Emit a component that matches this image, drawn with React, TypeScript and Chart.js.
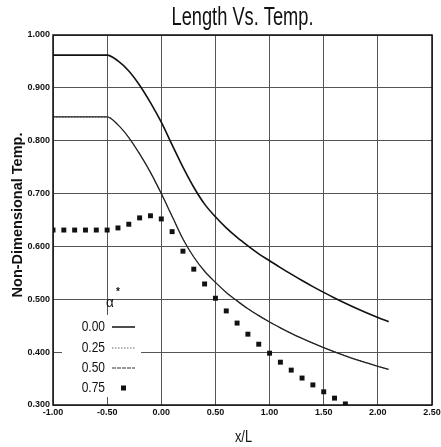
import React, { useEffect, useRef } from "react";
import { Chart, registerables } from "chart.js";

Chart.register(...registerables);

// ---- data ----
const xCurve = [
  -1.0, -0.9, -0.8, -0.7, -0.6, -0.5, -0.4, -0.3, -0.2, -0.1, 0.0, 0.1, 0.2, 0.3, 0.4, 0.5,
  0.6, 0.7, 0.8, 0.9, 1.0, 1.1, 1.2, 1.3, 1.4, 1.5, 1.6, 1.7, 1.8, 1.9, 2.0, 2.1,
];
const alpha000 = [
  0.962, 0.962, 0.962, 0.962, 0.962, 0.962, 0.951, 0.932, 0.905, 0.872, 0.835, 0.792, 0.75,
  0.712, 0.68, 0.656, 0.635, 0.617, 0.601, 0.586, 0.573, 0.56, 0.5475, 0.5355, 0.524, 0.513,
  0.5025, 0.4925, 0.483, 0.474, 0.4655, 0.4575,
];
const alpha025 = [
  0.845, 0.845, 0.845, 0.845, 0.845, 0.845, 0.83, 0.806, 0.775, 0.74, 0.7, 0.657, 0.614, 0.58,
  0.553, 0.532, 0.513, 0.497, 0.482, 0.469, 0.457, 0.446, 0.4355, 0.426, 0.417, 0.4085, 0.4005,
  0.393, 0.386, 0.3795, 0.3732, 0.3672,
];
const alpha050 = [
  0.845, 0.845, 0.845, 0.845, 0.845, 0.845, 0.83, 0.806, 0.775, 0.74, 0.7, 0.657, 0.614, 0.58,
  0.553, 0.532, 0.513, 0.497, 0.482, 0.469, 0.457, 0.446, 0.4355, 0.426, 0.417, 0.4085, 0.4005,
  0.393, 0.386, 0.3795, 0.3732, 0.3672,
];
const xSquares = [
  -1.0, -0.9, -0.8, -0.7, -0.6, -0.5, -0.4, -0.3, -0.2, -0.1, 0.0, 0.1, 0.2, 0.3, 0.4, 0.5,
  0.6, 0.7, 0.8, 0.9, 1.0, 1.1, 1.2, 1.3, 1.4, 1.5, 1.6, 1.7,
];
const alpha075 = [
  0.631, 0.631, 0.631, 0.631, 0.631, 0.631, 0.635, 0.642, 0.654, 0.658, 0.652, 0.628, 0.591,
  0.557, 0.529, 0.502, 0.478, 0.455, 0.434, 0.415, 0.398, 0.381, 0.366, 0.351, 0.338, 0.325,
  0.313, 0.302,
];
const legendLabels = ["0.00", "0.25", "0.50", "0.75"];
const titleText = "Length Vs. Temp.";
const xTitle = "x/L";
const yTitle = "Non-Dimensional Temp.";

const pts = (xs: number[], ys: number[]) => xs.map((x, i) => ({ x, y: ys[i] }));

function narrowText(
  ctx: CanvasRenderingContext2D,
  text: string,
  x: number,
  y: number,
  font: string,
  sx: number,
  align: CanvasTextAlign
) {
  ctx.save();
  ctx.translate(x, y);
  ctx.scale(sx, 1);
  ctx.font = font;
  ctx.textAlign = align;
  ctx.textBaseline = "middle";
  ctx.fillStyle = "#111";
  ctx.fillText(text, 0, 0);
  ctx.restore();
}

const deco = {
  id: "deco",
  beforeDraw(chart: any) {
    const ctx = chart.ctx;
    ctx.save();
    ctx.fillStyle = "#fff";
    ctx.fillRect(0, 0, chart.width, chart.height);
    ctx.restore();
  },
  beforeDatasetsDraw(chart: any) {
    const ctx = chart.ctx;
    const a = chart.chartArea;
    ctx.save();
    ctx.fillStyle = "#fff";
    ctx.fillRect(a.left + 9, a.bottom - 90, 79, 82);
    ctx.restore();
  },
  afterDraw(chart: any) {
    const ctx = chart.ctx;
    const a = chart.chartArea;
    ctx.save();
    ctx.strokeStyle = "#111";
    ctx.lineWidth = 1.5;
    ctx.strokeRect(a.left, a.top, a.right - a.left, a.bottom - a.top);
    ctx.restore();

    const cx = (a.left + a.right) / 2;
    narrowText(ctx, titleText, cx, 18, "25px 'Liberation Sans'", 0.73, "center");
    narrowText(ctx, xTitle, cx + 1, 438, "16px 'Liberation Sans'", 0.8, "center");

    ctx.save();
    ctx.translate(18, 215);
    ctx.rotate(-Math.PI / 2);
    ctx.font = "bold 14.5px 'Liberation Sans'";
    ctx.textAlign = "center";
    ctx.textBaseline = "middle";
    ctx.fillStyle = "#111";
    ctx.fillText(yTitle, 0, 0);
    ctx.restore();

    // legend
    const lx = a.left;
    const by = a.bottom;
    narrowText(ctx, "\u03b1", lx + 57, by - 102, "15px 'Liberation Sans'", 0.9, "center");
    narrowText(ctx, "*", lx + 65, by - 113, "bold 10px 'Liberation Sans'", 1, "center");
    const rows = [by - 78, by - 57, by - 37, by - 17];
    legendLabels.forEach((t, i) => {
      narrowText(ctx, t, lx + 52, rows[i], "15px 'Liberation Sans'", 0.8, "right");
    });
    ctx.save();
    ctx.strokeStyle = "#111";
    ctx.lineWidth = 1.5;
    ctx.beginPath();
    ctx.moveTo(lx + 59, rows[0]);
    ctx.lineTo(lx + 82, rows[0]);
    ctx.stroke();
    ctx.strokeStyle = "#666";
    ctx.lineWidth = 1;
    ctx.setLineDash([1.5, 1.5]);
    ctx.beginPath();
    ctx.moveTo(lx + 59, rows[1]);
    ctx.lineTo(lx + 82, rows[1]);
    ctx.stroke();
    ctx.strokeStyle = "#333";
    ctx.setLineDash([4, 1]);
    ctx.beginPath();
    ctx.moveTo(lx + 59, rows[2]);
    ctx.lineTo(lx + 82, rows[2]);
    ctx.stroke();
    ctx.setLineDash([]);
    ctx.fillStyle = "#111";
    ctx.fillRect(lx + 68, rows[3] - 2.5, 5, 5);
    ctx.restore();
  },
};

export default function App() {
  const ref = useRef<HTMLCanvasElement | null>(null);
  useEffect(() => {
    if (!ref.current) return;
    const chart = new Chart(ref.current, {
      type: "scatter",
      data: {
        datasets: [
          {
            label: "0.00",
            data: pts(xCurve, alpha000),
            showLine: true,
            borderColor: "#111",
            borderWidth: 1.6,
            pointRadius: 0,
            cubicInterpolationMode: "monotone",
          },
          {
            label: "0.50",
            data: pts(xCurve, alpha050),
            showLine: true,
            borderColor: "#222",
            borderWidth: 1.3,
            pointRadius: 0,
            cubicInterpolationMode: "monotone",
          },
          {
            label: "0.25",
            data: pts(xCurve, alpha025),
            showLine: true,
            borderColor: "#555",
            borderWidth: 1,
            borderDash: [1.5, 1.5],
            pointRadius: 0,
            cubicInterpolationMode: "monotone",
          },
          {
            label: "0.75",
            data: pts(xSquares, alpha075),
            showLine: false,
            pointStyle: "rect",
            pointRadius: 3.5,
            pointBackgroundColor: "#111",
            pointBorderWidth: 0,
            borderColor: "#111",
          },
        ],
      },
      options: {
        responsive: false,
        animation: false,
        layout: { padding: { top: 35, right: 9, left: 0, bottom: 0 } },
        plugins: {
          legend: { display: false },
          title: { display: false },
          tooltip: { enabled: false },
        },
        scales: {
          x: {
            type: "linear",
            min: -1,
            max: 2.5,
            ticks: {
              stepSize: 0.5,
              padding: 2,
              color: "#111",
              font: { family: "'Liberation Sans'", size: 9, weight: "bold" },
              maxRotation: 0,
              autoSkip: false,
              callback: (v: any) => Number(v).toFixed(2),
            },
            grid: { color: "#555", lineWidth: 1, drawTicks: false },
            border: { display: false },
            afterFit: (s: any) => {
              s.height = 42;
              s.paddingLeft = 0;
              s.paddingRight = 0;
            },
          },
          y: {
            type: "linear",
            min: 0.3,
            max: 1.0,
            ticks: {
              stepSize: 0.1,
              padding: 3,
              color: "#111",
              font: { family: "'Liberation Sans'", size: 9, weight: "bold" },
              autoSkip: false,
              callback: (v: any) => Number(v).toFixed(3),
            },
            grid: { color: "#555", lineWidth: 1, drawTicks: false },
            border: { display: false },
            afterFit: (s: any) => {
              s.width = 53;
              s.paddingTop = 0;
              s.paddingBottom = 0;
            },
          },
        },
      },
      plugins: [deco],
    });
    return () => chart.destroy();
  }, []);
  return (
    <div style={{ position: "fixed", left: 0, top: 0, width: 441, height: 447 }}>
      <canvas ref={ref} width={441} height={447} style={{ display: "block" }} />
    </div>
  );
}
